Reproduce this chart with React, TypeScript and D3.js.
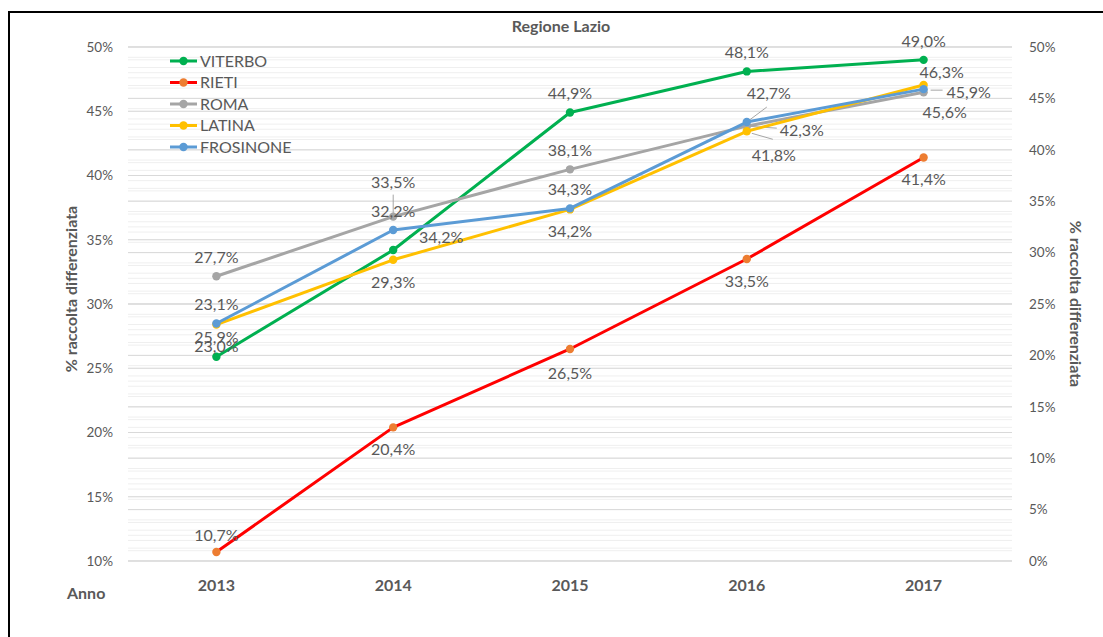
import React from "react";
import * as d3 from "d3";

// ---------- DATA ----------
const years = ["2013", "2014", "2015", "2016", "2017"];
const viterbo = [25.9, 34.2, 44.9, 48.1, 49.0];
const rieti = [10.7, 20.4, 26.5, 33.5, 41.4];
const roma = [27.7, 33.5, 38.1, 42.3, 45.6];
const latina = [23.0, 29.3, 34.2, 41.8, 46.3];
const frosinone = [23.1, 32.2, 34.3, 42.7, 45.9];
const seriesNames = ["VITERBO", "RIETI", "ROMA", "LATINA", "FROSINONE"];
const leftTicks = [10, 15, 20, 25, 30, 35, 40, 45, 50];
const rightTicks = [0, 5, 10, 15, 20, 25, 30, 35, 40, 45, 50];
const title = "Regione Lazio";
const axisTitle = "% raccolta differenziata";
const xAxisTitle = "Anno";

// ---------- LAYOUT / STYLE ----------
const W = 1103;
const H = 637;
const plot = { left: 128, right: 1012, top: 47, bottom: 561 };
const textColor = "#595959";
const font = "Lato, 'Open Sans', sans-serif";

type SeriesStyle = { line: string; marker: string; axis: "L" | "R" };
const styles: SeriesStyle[] = [
  { line: "#00b050", marker: "#00b050", axis: "L" },
  { line: "#ff0000", marker: "#ed7d31", axis: "L" },
  { line: "#a5a5a5", marker: "#a5a5a5", axis: "R" },
  { line: "#ffc000", marker: "#ffc000", axis: "R" },
  { line: "#5b9bd5", marker: "#5b9bd5", axis: "R" },
];

// label offsets relative to the point: [dx, dy(center)], optional leader [x1,y1,x2,y2] offsets
type LabelPos = { dx: number; dy: number; leader?: [number, number, number, number] };
const A: LabelPos = { dx: 0, dy: -19 };
const B: LabelPos = { dx: 0, dy: 22 };
const labelLayout: LabelPos[][] = [
  // VITERBO
  [A, { dx: 48, dy: -13, leader: [17, -15, 0, 0] }, A, A, A],
  // RIETI
  [{ dx: 0, dy: -17 }, B, { dx: 0, dy: 24 }, B, B],
  // ROMA
  [A, { dx: 0, dy: -34, leader: [0, -22, 0, 0] }, A, { dx: 55, dy: 4, leader: [30, 2, 0, 0] }, { dx: 21, dy: 20 }],
  // LATINA
  [B, B, B, { dx: 27, dy: 24, leader: [26, 8, 5, 2] }, { dx: 18, dy: -13 }],
  // FROSINONE
  [A, A, A, { dx: 22, dy: -29, leader: [20, -15, 0, 0] }, { dx: 45, dy: 3, leader: [19, 1, 7, 1] }],
];

const allSeries = [viterbo, rieti, roma, latina, frosinone];

const fmt = (v: number) => d3.format(".1f")(v).replace(".", ",") + "%";

export default function App() {
  const x = d3.scaleBand<string>().domain(years).range([plot.left, plot.right]);
  const cx = (yr: string) => (x(yr) ?? 0) + x.bandwidth() / 2;
  const yL = d3.scaleLinear().domain([10, 50]).range([plot.bottom, plot.top]);
  const yR = d3.scaleLinear().domain([0, 50]).range([plot.bottom, plot.top]);

  const leftMinor = d3.range(10, 50.001, 1);
  const rightMinor = d3.range(0, 50.001, 1);

  const lineGen = (scale: d3.ScaleLinear<number, number>) =>
    d3
      .line<number>()
      .x((_, i) => cx(years[i]))
      .y((d) => scale(d));

  const legendX = 170;
  const legendY0 = 61;
  const legendStep = 21.5;

  return (
    <svg
      width={W}
      height={H}
      style={{ position: "absolute", left: 0, top: 0, background: "#fff", fontFamily: font }}
    >
      <rect x={0} y={0} width={W} height={H} fill="#fff" />
      {/* gridlines */}
      <g>
        {rightMinor.map((t) => (
          <line key={"rm" + t} x1={plot.left} x2={plot.right} y1={yR(t)} y2={yR(t)} stroke="#efefef" strokeWidth={1} />
        ))}
        {leftMinor.map((t) => (
          <line key={"lm" + t} x1={plot.left} x2={plot.right} y1={yL(t)} y2={yL(t)} stroke="#efefef" strokeWidth={1} />
        ))}
        {rightTicks.map((t) => (
          <line key={"rM" + t} x1={plot.left} x2={plot.right} y1={yR(t)} y2={yR(t)} stroke="#d9d9d9" strokeWidth={1} />
        ))}
        {leftTicks.map((t) => (
          <line key={"lM" + t} x1={plot.left} x2={plot.right} y1={yL(t)} y2={yL(t)} stroke="#d9d9d9" strokeWidth={1} />
        ))}
      </g>

      {/* left ticks */}
      {leftTicks.map((t) => (
        <text key={"lt" + t} x={113} y={yL(t)} dy="0.36em" textAnchor="end" fontSize={13.5} fill={textColor}>
          {t + "%"}
        </text>
      ))}
      {/* right ticks */}
      {rightTicks.map((t) => (
        <text key={"rt" + t} x={1029} y={yR(t)} dy="0.36em" textAnchor="start" fontSize={13.5} fill={textColor}>
          {t + "%"}
        </text>
      ))}
      {/* category labels */}
      {years.map((yr) => (
        <text key={"c" + yr} x={cx(yr)} y={585} dy="0.36em" textAnchor="middle" fontSize={16} fontWeight="bold" fill={textColor}>
          {yr}
        </text>
      ))}
      <text x={67} y={593} dy="0.36em" fontSize={16} fontWeight="bold" fill={textColor}>
        {xAxisTitle}
      </text>

      {/* axis titles */}
      <text
        transform={`translate(${77},${289}) rotate(-90)`}
        textAnchor="middle"
        fontSize={16}
        fontWeight="bold"
        fill={textColor}
      >
        {axisTitle}
      </text>
      <text
        transform={`translate(${1070},${304}) rotate(90)`}
        textAnchor="middle"
        fontSize={16}
        fontWeight="bold"
        fill={textColor}
      >
        {axisTitle}
      </text>

      {/* title */}
      <text x={561} y={26} dy="0.36em" textAnchor="middle" fontSize={16} fontWeight="bold" fill={textColor}>
        {title}
      </text>

      {/* leader lines */}
      {allSeries.map((vals, si) => {
        const sc = styles[si].axis === "L" ? yL : yR;
        return vals.map((v, i) => {
          const lp = labelLayout[si][i];
          if (!lp.leader) return null;
          const px = cx(years[i]);
          const py = sc(v);
          return (
            <line
              key={`ld${si}-${i}`}
              x1={px + lp.leader[0]}
              y1={py + lp.leader[1]}
              x2={px + lp.leader[2]}
              y2={py + lp.leader[3]}
              stroke="#a6a6a6"
              strokeWidth={1}
            />
          );
        });
      })}

      {/* series lines & markers */}
      {allSeries.map((vals, si) => {
        const sc = styles[si].axis === "L" ? yL : yR;
        return (
          <g key={"s" + si}>
            <path d={lineGen(sc)(vals) ?? ""} fill="none" stroke={styles[si].line} strokeWidth={3} strokeLinejoin="round" />
            {vals.map((v, i) => (
              <circle key={i} cx={cx(years[i])} cy={sc(v)} r={4.2} fill={styles[si].marker} />
            ))}
          </g>
        );
      })}

      {/* data labels */}
      {allSeries.map((vals, si) => {
        const sc = styles[si].axis === "L" ? yL : yR;
        return vals.map((v, i) => {
          const lp = labelLayout[si][i];
          return (
            <text
              key={`lb${si}-${i}`}
              x={cx(years[i]) + lp.dx}
              y={sc(v) + lp.dy}
              dy="0.36em"
              textAnchor="middle"
              fontSize={16}
              fill={textColor}
            >
              {fmt(v)}
            </text>
          );
        });
      })}

      {/* legend */}
      {seriesNames.map((n, i) => {
        const ly = legendY0 + i * legendStep;
        return (
          <g key={"lg" + n}>
            <line x1={legendX} x2={legendX + 27} y1={ly} y2={ly} stroke={styles[i].line} strokeWidth={3} />
            <circle cx={legendX + 13.5} cy={ly} r={4.2} fill={styles[i].marker} />
            <text x={legendX + 30} y={ly} dy="0.36em" fontSize={16} fill={textColor}>
              {n}
            </text>
          </g>
        );
      })}

      {/* outer frame */}
      <rect x={9} y={12} width={W + 20} height={H + 20} fill="none" stroke="#000" strokeWidth={2} />
    </svg>
  );
}
